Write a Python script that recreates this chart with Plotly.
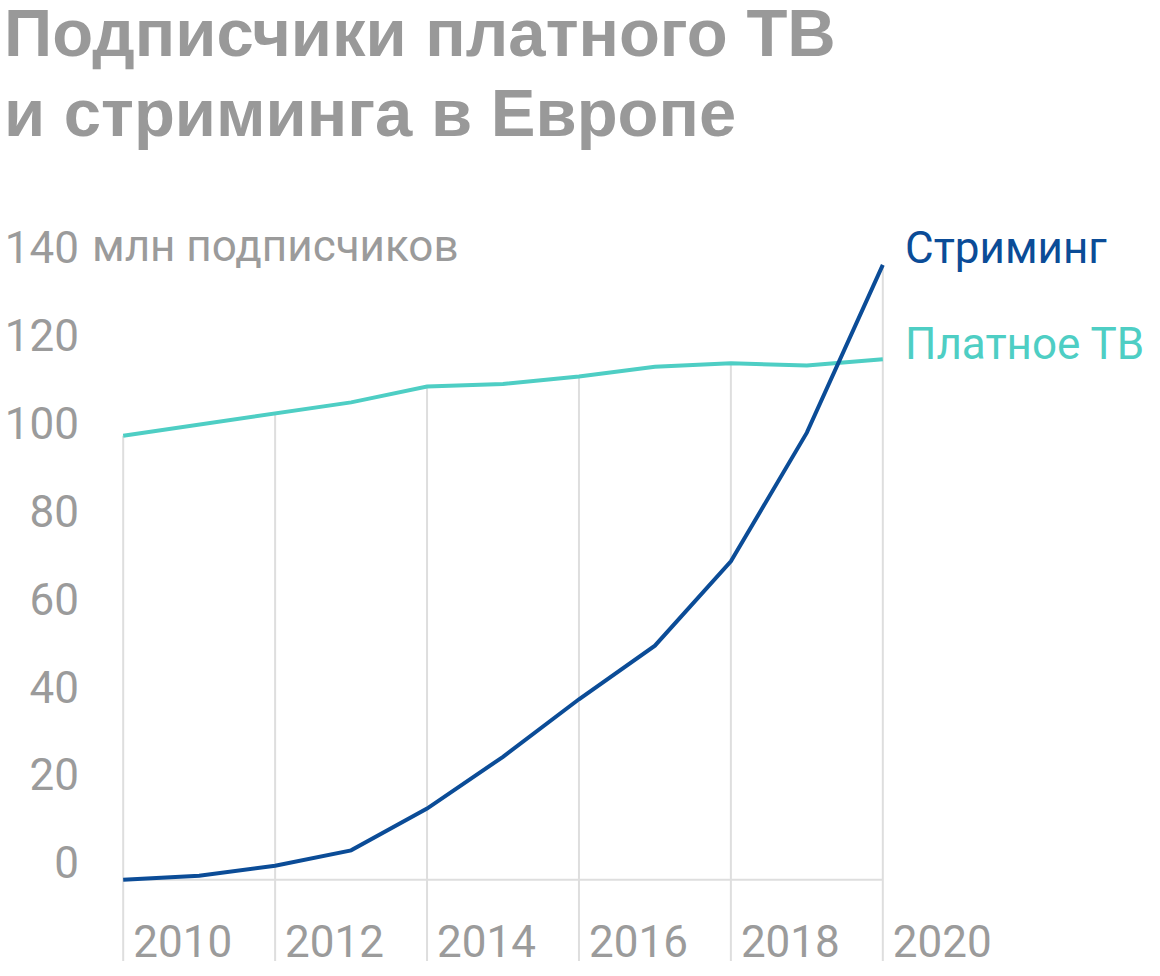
import plotly.graph_objects as go

years = list(range(2010, 2021))
pay_tv = [101.1, 103.7, 106.2, 108.7, 112.3, 112.9, 114.6, 116.8, 117.6, 117.1, 118.5]
streaming = [0.0, 0.9, 3.2, 6.7, 16.2, 28.0, 41.1, 53.3, 72.5, 101.8, 140.0]
y_ticks = [0, 20, 40, 60, 80, 100, 120, 140]
x_ticks = [2010, 2012, 2014, 2016, 2018, 2020]
title_lines = ["Подписчики платного ТВ", "и стриминга в Европе"]
unit_text = "млн подписчиков"
name_stream = "Стриминг"
name_pay = "Платное ТВ"

C_STREAM = "#0B4C97"
C_PAY = "#4ECEC4"
C_TEXT = "#9B9B9B"
C_GRID = "#DEDEDE"

Y_MIN, Y_MAX = -21, 150
GRID_BOTTOM = -18.5
W, H = 1160, 976
ML, MR, MT, MB = 108, 262, 221, 4
PW, PH = W - ML - MR, H - MT - MB


def px_to_paper_x(px):
    return (px - ML) / PW


def px_to_paper_y(py):
    return (H - MB - py) / PH


fig = go.Figure()

# vertical gridlines from bottom up to the higher series value
gx, gy = [], []
for xt in x_ticks:
    i = years.index(xt)
    top = max(pay_tv[i], streaming[i])
    gx += [xt, xt, None]
    gy += [GRID_BOTTOM, top, None]
fig.add_trace(go.Scatter(x=gx, y=gy, mode="lines", line=dict(color=C_GRID, width=2),
                         hoverinfo="skip", showlegend=False))
# zero baseline
fig.add_trace(go.Scatter(x=[years[0], years[-1]], y=[0, 0], mode="lines",
                         line=dict(color=C_GRID, width=2), hoverinfo="skip", showlegend=False))

fig.add_trace(go.Scatter(x=years, y=pay_tv, mode="lines", name=name_pay,
                         line=dict(color=C_PAY, width=4), showlegend=False))
fig.add_trace(go.Scatter(x=years, y=streaming, mode="lines", name=name_stream,
                         line=dict(color=C_STREAM, width=4), showlegend=False))

label_font = dict(family="Roboto", size=44)

fig.add_annotation(x=years[-1], y=streaming[-1], xref="x", yref="y", text=name_stream,
                   showarrow=False, xanchor="left", yanchor="middle", xshift=20, yshift=17,
                   font=dict(label_font, color=C_STREAM))
fig.add_annotation(x=years[-1], y=pay_tv[-1], xref="x", yref="y", text=name_pay,
                   showarrow=False, xanchor="left", yanchor="middle", xshift=20, yshift=15,
                   font=dict(label_font, color=C_PAY))
fig.add_annotation(x=px_to_paper_x(90), y=y_ticks[-1], xref="paper", yref="y", text=unit_text,
                   showarrow=False, xanchor="left", yanchor="middle", yshift=19,
                   font=dict(label_font, color=C_TEXT))

title_font = dict(family="Liberation Sans", size=67, color="#999999", weight="bold")
for line, py in zip(title_lines, [33, 112.5]):
    fig.add_annotation(x=px_to_paper_x(2), y=px_to_paper_y(py), xref="paper", yref="paper",
                       text=line, showarrow=False, xanchor="left", yanchor="middle",
                       font=title_font)

fig.update_layout(
    width=W, height=H,
    margin=dict(l=ML, r=MR, t=MT, b=MB),
    paper_bgcolor="white", plot_bgcolor="white",
    showlegend=False,
)
fig.update_xaxes(range=[2009.8, 2020.2], tickvals=x_ticks, showgrid=False, zeroline=False,
                 showline=False, ticks="", ticklabelposition="inside right",
                 ticklabeloverflow="allow", ticklabelshift=10, automargin=False,
                 tickfont=dict(label_font, color=C_TEXT))
fig.update_yaxes(range=[Y_MIN, Y_MAX], tickvals=y_ticks, showgrid=False, zeroline=False,
                 showline=False, ticks="", ticklabelshift=-17, ticklabelstandoff=28,
                 automargin=False, tickfont=dict(label_font, color=C_TEXT))

fig.write_html("out.html", config={"displayModeBar": False},
               post_script="document.body.style.margin='0';document.body.style.overflow='hidden';")
